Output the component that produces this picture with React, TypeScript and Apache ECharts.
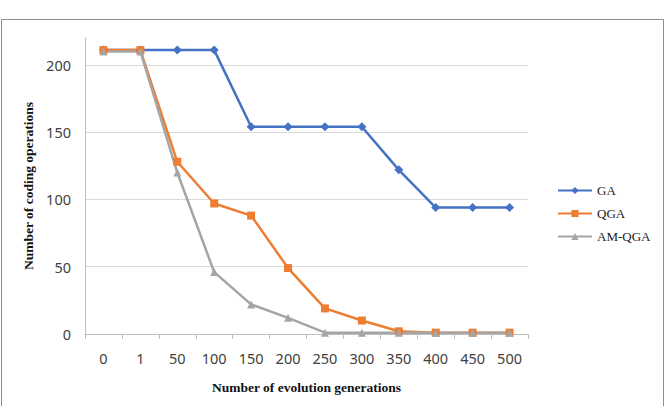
import React, { useEffect, useRef } from "react";
import * as echarts from "echarts";

const categories = ["0", "1", "50", "100", "150", "200", "250", "300", "350", "400", "450", "500"];
const gaValues = [211, 211, 211, 211, 154, 154, 154, 154, 122, 94, 94, 94];
const qgaValues = [211, 211, 128, 97, 88, 49, 19, 10, 2, 1, 1, 1];
const amqgaValues = [210, 210, 120, 46, 22, 12, 1, 1, 1, 1, 1, 1];
const seriesNames = ["GA", "QGA", "AM-QGA"];
const colors = ["#4472C4", "#ED7D31", "#A5A5A5"];

export default function App() {
  const ref = useRef<HTMLDivElement>(null);
  useEffect(() => {
    if (!ref.current) return;
    const chart = echarts.init(ref.current, undefined, { renderer: "svg" });
    const mk = (name: string, data: number[], color: string, symbol: string, size: number) => ({
      name,
      type: "line",
      data,
      symbol,
      symbolSize: size,
      showAllSymbol: true,
      lineStyle: { color, width: 2.5 },
      itemStyle: { color },
    });
    chart.setOption({
      animation: false,
      backgroundColor: "#fff",
      graphic: [
        {
          type: "rect",
          shape: { x: 1.5, y: 19.5, width: 662, height: 400 },
          style: { fill: "none", stroke: "#8c8c8c", lineWidth: 1 },
          silent: true,
        },
      ],
      grid: { left: 85, right: 137, top: 38, bottom: 72 },
      legend: {
        orient: "vertical",
        left: 552,
        top: 179,
        itemGap: 10,
        itemWidth: 34,
        itemHeight: 9,
        data: seriesNames,
        textStyle: { fontFamily: "Liberation Serif", fontSize: 13, color: "#222" },
      },
      xAxis: {
        type: "category",
        data: categories,
        boundaryGap: true,
        name: "Number of evolution generations",
        nameLocation: "middle",
        nameGap: 46,
        nameTextStyle: { fontFamily: "Liberation Serif", fontWeight: "bold", fontSize: 13.5, color: "#111" },
        axisLine: { lineStyle: { color: "#bfbfbf", width: 1 } },
        axisTick: { show: true, length: 5, lineStyle: { color: "#bfbfbf" } },
        axisLabel: { fontFamily: "Noto Sans", fontSize: 14.5, color: "#404040", margin: 16 },
      },
      yAxis: {
        type: "value",
        min: 0,
        max: 220,
        interval: 50,
        name: "Number of coding operations",
        nameLocation: "middle",
        nameGap: 46,
        nameTextStyle: { fontFamily: "Liberation Serif", fontWeight: "bold", fontSize: 13.5, color: "#111" },
        axisLine: { show: true, lineStyle: { color: "#bfbfbf", width: 1 } },
        axisTick: { show: false },
        axisLabel: { fontFamily: "Noto Sans", fontSize: 14.5, color: "#404040", margin: 14, showMaxLabel: false },
        splitLine: { show: true, showMaxLine: false, lineStyle: { color: "#d9d9d9", width: 1 } },
      },
      series: [
        mk(seriesNames[0], gaValues, colors[0], "diamond", 9),
        mk(seriesNames[1], qgaValues, colors[1], "rect", 8),
        mk(seriesNames[2], amqgaValues, colors[2], "triangle", 8),
      ],
    });
    return () => chart.dispose();
  }, []);
  return <div ref={ref} style={{ width: 665, height: 406, position: "absolute", left: 0, top: 0 }} />;
}
